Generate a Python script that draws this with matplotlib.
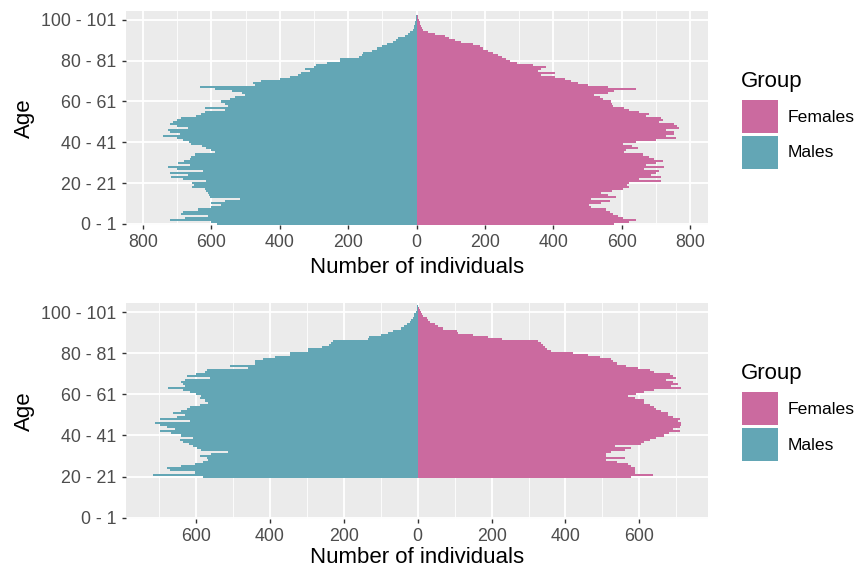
import numpy as np
import matplotlib
matplotlib.use("Agg")
import matplotlib.pyplot as plt
from matplotlib.patches import Rectangle
from matplotlib.ticker import FuncFormatter, MultipleLocator

plt.rcParams['font.family'] = ['Liberation Sans', 'DejaVu Sans']

# --- data ---
ages_top = list(range(0, 105))
males_top = [585, 600, 722, 678, 610, 688, 683, 640, 600, 571,
             600, 560, 517, 605, 608, 610, 615, 620, 656, 650,
             656, 615, 683, 717, 668, 722, 624, 700, 727, 663,
             698, 680, 663, 660, 649, 590, 600, 615, 629, 659,
             665, 683, 700, 741, 693, 722, 727, 668, 700, 722,
             712, 700, 688, 644, 630, 620, 561, 620, 551, 560,
             571, 546, 532, 502, 512, 540, 590, 634, 473, 478,
             454, 400, 371, 346, 337, 312, 327, 300, 293, 263,
             224, 224, 170, 161, 156, 132, 117, 102, 88, 70,
             59, 54, 34, 25, 20, 12, 9, 7, 5, 4,
             2, 1, 1, 0, 0]
females_top = [578, 620, 640, 603, 588, 573, 565, 554, 510, 505,
               540, 564, 510, 583, 560, 540, 570, 603, 622, 615,
               622, 714, 651, 714, 685, 700, 710, 666, 724, 671,
               700, 719, 695, 680, 661, 607, 612, 646, 630, 603,
               641, 700, 758, 729, 753, 753, 729, 768, 760, 753,
               710, 720, 714, 671, 680, 650, 622, 607, 573, 570,
               569, 544, 535, 520, 560, 578, 641, 560, 500, 471,
               450, 433, 404, 364, 404, 355, 365, 379, 340, 292,
               272, 262, 250, 238, 224, 209, 195, 185, 165, 131,
               112, 95, 83, 53, 34, 19, 15, 12, 10, 9,
               8, 5, 4, 2, 1]

ages_bot = list(range(20, 105))
males_bot = [581, 716, 604, 671, 680, 640, 604, 581, 568, 572,
             590, 560, 513, 586, 599, 608, 620, 635, 644, 608,
             640, 667, 698, 658, 680, 698, 712, 617, 698, 653,
             631, 662, 640, 626, 617, 590, 568, 577, 590, 586,
             600, 617, 635, 676, 631, 635, 640, 631, 563, 626,
             600, 577, 572, 459, 509, 441, 441, 420, 387, 347,
             347, 297, 297, 260, 239, 235, 230, 135, 131, 100,
             81, 68, 45, 36, 28, 22, 18, 13, 10, 9,
             5, 3, 2, 1, 0]
females_bot = [578, 637, 587, 587, 587, 578, 569, 540, 511, 560,
               511, 511, 524, 560, 578, 533, 605, 614, 630, 646,
               668, 680, 709, 691, 709, 714, 714, 705, 709, 690,
               677, 677, 660, 646, 641, 628, 614, 614, 587, 569,
               590, 614, 641, 714, 686, 705, 690, 673, 700, 690,
               682, 640, 628, 596, 565, 540, 529, 524, 493, 461,
               421, 362, 350, 344, 340, 335, 326, 227, 191, 150,
               110, 106, 69, 55, 47, 33, 28, 24, 15, 12,
               9, 6, 4, 2, 1]

tick_ages = [0, 20, 40, 60, 80, 100]
tick_labels = [f"{a} - {a + 1}" for a in tick_ages]
groups = ["Females", "Males"]
colors = {"Females": "#CB6A9F", "Males": "#63A6B5"}

W, H = 858, 570
fig = plt.figure(figsize=(W / 100, H / 100), dpi=100)


def px_box(left, top, right, bottom):
    return [left / W, 1 - bottom / H, (right - left) / W, (bottom - top) / H]


def pyramid(ax, ages, males, females, xlim, xmajor, xpad):
    ax.set_facecolor("#EBEBEB")
    ax.barh(ages, [-m for m in males], height=1.0, color=colors["Males"],
            linewidth=0, zorder=2)
    ax.barh(ages, females, height=1.0, color=colors["Females"],
            linewidth=0, zorder=2)
    ax.set_xlim(*xlim)
    ax.set_ylim(-0.6, 104.4)
    ax.xaxis.set_major_locator(MultipleLocator(xmajor))
    ax.xaxis.set_minor_locator(MultipleLocator(xmajor / 2))
    ax.xaxis.set_major_formatter(FuncFormatter(lambda v, p: f"{abs(v):.0f}"))
    ax.set_yticks(tick_ages)
    ax.set_yticklabels(tick_labels)
    ax.grid(which="major", color="white", linewidth=1.3, zorder=0)
    ax.grid(which="minor", axis="x", color="white", linewidth=0.6, zorder=0)
    ax.set_axisbelow(True)
    for s in ax.spines.values():
        s.set_visible(False)
    ax.tick_params(which="major", length=3.2, width=1.0, color="#333333",
                   labelcolor="#4D4D4D", labelsize=12.8, pad=3.5)
    ax.tick_params(which="minor", length=0)
    ax.set_xlabel("Number of individuals", fontsize=16, labelpad=xpad)
    ax.set_ylabel("Age", fontsize=16, labelpad=5)


def legend(top):
    fig.text(741 / W, 1 - (top + 21) / H, "Group", fontsize=16,
             ha="left", va="center")
    for i, g in enumerate(groups):
        y0 = top + 40 + i * 36
        fig.add_artist(Rectangle((742 / W, 1 - (y0 + 33) / H), 36 / W, 33 / H,
                                 transform=fig.transFigure,
                                 facecolor=colors[g], edgecolor="none"))
        fig.text(788 / W, 1 - (y0 + 17) / H, g, fontsize=12.6,
                 ha="left", va="center")


ax1 = fig.add_axes(px_box(126, 11, 708, 225))
pyramid(ax1, ages_top, males_top, females_top, (-850, 852), 200, 4)
legend(60)

ax2 = fig.add_axes(px_box(126, 303, 708, 519))
pyramid(ax2, ages_bot, males_bot, females_bot, (-790, 786), 200, 1.5)
legend(352)

fig.savefig("out.png", dpi=100)
